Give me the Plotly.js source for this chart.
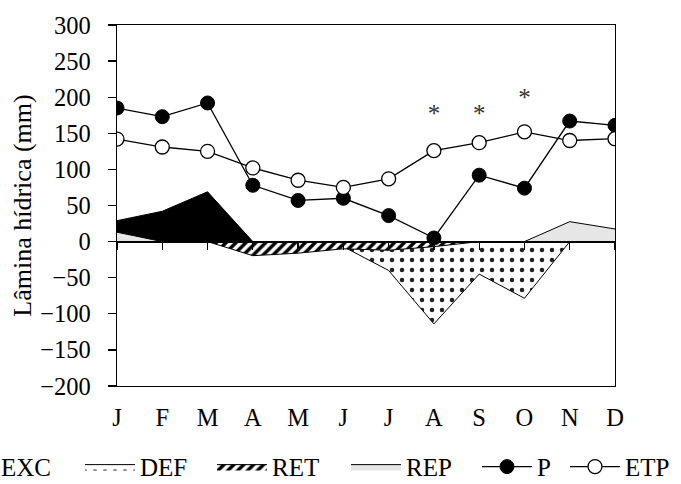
<!DOCTYPE html>
<html>
<head>
<meta charset="utf-8">
<script src="https://cdn.plot.ly/plotly-3.0.1.min.js"></script>
<style>html,body{margin:0;padding:0;background:#fff;}#chart{width:681px;height:484px;}</style>
</head>
<body>
<div id="chart"></div>
<script>
const months = ['J','F','M','A','M','J','J','A','S','O','N','D'];
const P   = [185, 173, 192, 78, 57, 60, 36, 5, 92, 74, 167, 161];
const ETP = [142, 131, 125, 102, 85, 75, 87, 126, 137, 152, 140, 142.5];
const EXC = [29, 42, 69, 0, 0, 0, 0, 0, 0, 0, 0, 0];
const DEF = [0, 0, 0, 0, 0, -7, -40, -114, -45, -78.5, 0, 0];
const RET = [0, 0, 0, -19.5, -16, -10, -12, -7, 0, 0, 0, 0];
const REP = [13, 0, 0, 0, 0, 0, 0, 0, 0, 0, 27.6, 17.5];
const starMonths = [7, 8, 9];
const starY = [174, 175, 197];
const starText = ['*', '*', '*'];
const yTicks = [-200, -150, -100, -50, 0, 50, 100, 150, 200, 250, 300];

const xs = months.map((m, i) => i);
const FONT = 'Liberation Serif, Times New Roman, serif';

const traces = [
  {name: 'EXC', x: xs, y: EXC, type: 'scatter', mode: 'lines', fill: 'tozeroy',
   fillcolor: '#000000', line: {color: '#000000', width: 1}, legend: 'legend'},
  {name: 'DEF', x: xs, y: DEF, type: 'scatter', mode: 'lines', fill: 'tozeroy',
   fillcolor: '#ffffff',
   fillpattern: {shape: '.', fgcolor: '#222222', bgcolor: '#ffffff', size: 10, solidity: 0.16},
   line: {color: '#000000', width: 1}, legend: 'legend2'},
  {name: 'RET', x: xs, y: RET, type: 'scatter', mode: 'lines', fill: 'tozeroy',
   fillcolor: '#ffffff',
   fillpattern: {shape: '/', fgcolor: '#000000', bgcolor: '#ffffff', size: 7, solidity: 0.5},
   line: {color: '#000000', width: 1}, legend: 'legend3'},
  {name: 'REP', x: xs, y: REP, type: 'scatter', mode: 'lines', fill: 'tozeroy',
   fillcolor: '#e6e6e6', line: {color: '#000000', width: 1}, legend: 'legend4'},
  {name: 'P', x: xs, y: P, type: 'scatter', mode: 'lines+markers', xaxis: 'x2',
   line: {color: '#000000', width: 1.3},
   marker: {symbol: 'circle', size: 14, color: '#000000', line: {color: '#000000', width: 1}},
   legend: 'legend5'},
  {name: 'ETP', x: xs, y: ETP, type: 'scatter', mode: 'lines+markers', xaxis: 'x2',
   line: {color: '#000000', width: 1.3},
   marker: {symbol: 'circle', size: 14, color: '#ffffff', line: {color: '#000000', width: 1.3}},
   legend: 'legend6'},
  {name: 'sig', x: starMonths, y: starY, text: starText, type: 'scatter', mode: 'text',
   textposition: 'middle center', textfont: {family: FONT, size: 25, color: '#333333'},
   showlegend: false, hoverinfo: 'skip'}
];

const legBase = {orientation: 'h', xanchor: 'left', yanchor: 'middle', y: -0.224,
  itemwidth: 50, font: {family: FONT, size: 25, color: '#000'}, bgcolor: 'rgba(0,0,0,0)',
  traceorder: 'normal'};
const W = 498;
function lx(px) { return (px - 117) / W; }

const layout = {
  width: 681, height: 484,
  margin: {l: 117, r: 66, t: 25, b: 98, autoexpand: false},
  paper_bgcolor: '#ffffff', plot_bgcolor: '#ffffff',
  font: {family: FONT, color: '#000000'},
  showlegend: true,
  xaxis: {
    range: [0, 11], tickvals: xs, ticktext: months,
    showline: true, mirror: true, linecolor: '#000', linewidth: 1.3,
    ticks: '', showgrid: false, zeroline: false,
    tickfont: {family: FONT, size: 24.5, color: '#000'}, ticklabelstandoff: 9
  },
  xaxis2: {
    range: [0, 11], overlaying: 'x', anchor: 'free', position: 0.4,
    tickvals: xs, showticklabels: false, ticks: 'outside', ticklen: 7, tickwidth: 1.3,
    tickcolor: '#000', showline: true, linecolor: '#000', linewidth: 2.2,
    showgrid: false, zeroline: false
  },
  yaxis: {
    range: [-200, 300], tickvals: yTicks, ticks: 'outside', ticklen: 8, tickwidth: 1.3,
    tickcolor: '#000', showline: true, mirror: true, linecolor: '#000', linewidth: 1.3,
    showgrid: false, zeroline: false,
    tickfont: {family: FONT, size: 24.5, color: '#000'}, ticklabelstandoff: 12,
    title: {text: 'Lâmina hídrica (mm)', font: {family: FONT, size: 26, color: '#000'}, standoff: 1}
  },
  legend:  Object.assign({}, legBase, {x: lx(-59)}),
  legend2: Object.assign({}, legBase, {x: lx(80)}),
  legend3: Object.assign({}, legBase, {x: lx(212)}),
  legend4: Object.assign({}, legBase, {x: lx(346)}),
  legend5: Object.assign({}, legBase, {x: lx(477)}),
  legend6: Object.assign({}, legBase, {x: lx(565)})
};

Plotly.newPlot('chart', traces, layout, {staticPlot: true, displayModeBar: false});
</script>
</body>
</html>
